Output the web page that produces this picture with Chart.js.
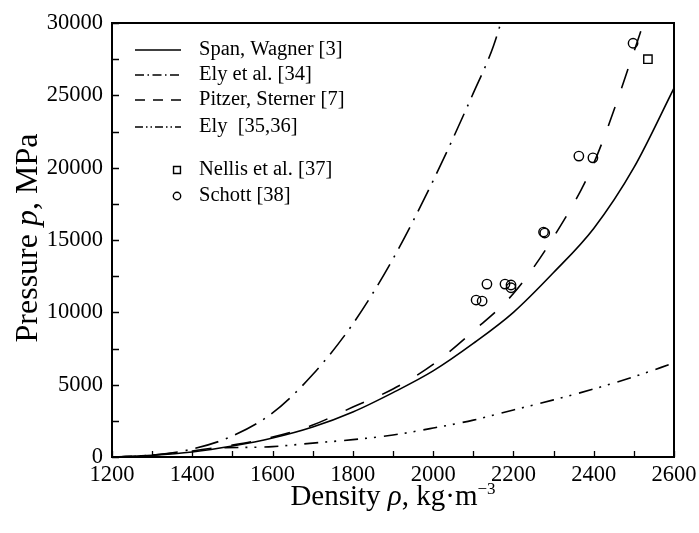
<!DOCTYPE html>
<html>
<head>
<meta charset="utf-8">
<script src="https://cdn.jsdelivr.net/npm/chart.js@4/dist/chart.umd.min.js"></script>
<style>
  body { margin: 0; background: #fff; }
  #wrap { width: 699px; height: 533px; }
</style>
</head>
<body>
<div id="wrap"><canvas id="PressureChart"></canvas></div>
<script>
// density in kg/m3, pressure in MPa
const density = [1200, 1300, 1400, 1500, 1600, 1700, 1800, 1900, 2000, 2100, 2200, 2300, 2400, 2500, 2600];
const spanWagner = [0, 120, 350, 760, 1310, 2070, 3110, 4450, 5950, 7850, 10000, 12750, 15800, 20000, 25500];

const elyEtAlDensity = [1200, 1300, 1400, 1500, 1600, 1700, 1800, 1900, 2000, 2100, 2150, 2200];
const elyEtAl = [0, 130, 550, 1450, 3050, 5700, 9200, 13700, 19100, 25150, 28400, 33000];

const pitzerDensity = [1200, 1300, 1400, 1500, 1600, 1700, 1800, 1900, 2000, 2100, 2200, 2300, 2400, 2500, 2550];
const pitzerSterner = [0, 130, 420, 830, 1380, 2210, 3450, 4700, 6400, 8700, 11300, 15200, 20300, 28000, 32200];

const elyDensity = [1480, 1600, 1700, 1800, 1900, 2000, 2100, 2200, 2300, 2400, 2500, 2600];
const ely = [640, 720, 960, 1200, 1520, 2000, 2550, 3250, 3950, 4700, 5550, 6500];

const nellisDensity = [2535];
const nellisPressure = [27500];

const schottDensity = [2107, 2122, 2134, 2179, 2194, 2194, 2275, 2278, 2363, 2398, 2498];
const schottPressure = [10850, 10780, 11950, 11950, 11890, 11700, 15550, 15480, 20800, 20680, 28600];

const labels = ["Span, Wagner [3]", "Ely et al. [34]", "Pitzer, Sterner [7]", "Ely  [35,36]", "Nellis et al. [37]", "Schott [38]"];

const serif = "'Liberation Serif', 'DejaVu Serif', serif";

function pts(xs, ys){
    return xs.map((x, i) => ({x: x, y: ys[i]}));
}

// legendDash: the shorter pattern used for the little legend sample
function curve(label, xs, ys, dash, legendDash){
    return {
        label: label,
        data: pts(xs, ys),
        borderColor: "#000",
        borderWidth: 1.6,
        borderDash: dash,
        legendDash: legendDash,
        pointRadius: 0,
        fill: false,
        cubicInterpolationMode: "monotone"
    };
}

function markers(label, xs, ys, style, radius){
    return {
        label: label,
        data: pts(xs, ys),
        showLine: false,
        pointStyle: style,
        pointRadius: radius,
        pointBorderColor: "#000",
        pointBackgroundColor: "rgba(0,0,0,0)",
        pointBorderWidth: 1.4
    };
}

// draws a run of text pieces (font, text, raise) one after another, centred on cx
function textRun(ctx, parts, cx, y){
    let w = 0;
    parts.forEach(p => { ctx.font = p[0]; w += ctx.measureText(p[1]).width; });
    let x = cx - w / 2;
    parts.forEach(p => {
        ctx.font = p[0];
        ctx.fillText(p[1], x, y - (p[2] || 0));
        x += ctx.measureText(p[1]).width;
    });
}

// frame, inward tick marks, legend and axis titles
const decorations = {
    id: "decorations",
    afterDraw(chart){
        const ctx = chart.ctx;
        const a = chart.chartArea;
        const xs = chart.scales.x, ys = chart.scales.y;
        ctx.save();
        ctx.strokeStyle = "#000";
        ctx.setLineDash([]);

        ctx.lineWidth = 1.3;
        ctx.beginPath();
        xs.ticks.forEach(t => {
            const px = Math.round(xs.getPixelForValue(t.value)) + 0.5;
            ctx.moveTo(px, a.bottom);
            ctx.lineTo(px, a.bottom - 6);
        });
        ys.ticks.forEach(t => {
            const py = Math.round(ys.getPixelForValue(t.value)) + 0.5;
            ctx.moveTo(a.left, py);
            ctx.lineTo(a.left + 7, py);
        });
        ctx.stroke();

        ctx.lineWidth = 2;
        ctx.strokeRect(a.left, a.top, a.right - a.left, a.bottom - a.top);

        // legend
        const rows = [a.top + 27, a.top + 52, a.top + 77, a.top + 104, a.top + 147, a.top + 173];
        ctx.textBaseline = "middle";
        chart.data.datasets.forEach((ds, i) => {
            const y = rows[i];
            if (ds.showLine === false){
                ctx.lineWidth = ds.pointBorderWidth;
                ctx.fillStyle = "rgba(0,0,0,0)";
                Chart.helpers.drawPoint(ctx, {pointStyle: ds.pointStyle, radius: ds.pointRadius - 1, borderWidth: ds.pointBorderWidth}, a.left + 65, y);
            } else {
                ctx.lineWidth = ds.borderWidth;
                ctx.setLineDash(ds.legendDash);
                ctx.beginPath();
                ctx.moveTo(a.left + 23, y);
                ctx.lineTo(a.left + 69, y);
                ctx.stroke();
                ctx.setLineDash([]);
            }
            ctx.font = "20.5px " + serif;
            ctx.fillStyle = "#000";
            ctx.fillText(ds.label, a.left + 87, y);
        });

        ctx.textBaseline = "alphabetic";

        // x title: Density ρ, kg·m-3
        textRun(ctx, [
            ["29px " + serif, "Density "],
            ["italic 29px " + serif, "\u03C1"],
            ["29px " + serif, ", kg\u00B7m"],
            ["17px " + serif, "\u22123", 11]
        ], (a.left + a.right) / 2, 505);

        // y title: Pressure p, MPa
        ctx.translate(37, 238);
        ctx.rotate(-Math.PI / 2);
        textRun(ctx, [
            ["32px " + serif, "Pressure "],
            ["italic 32px " + serif, "p"],
            ["32px " + serif, ", MPa"]
        ], 0, 0);
        ctx.restore();
    }
};

const tickFont = {family: serif, size: 22.5};

new Chart(document.getElementById("PressureChart"), {
    type: "line",
    data: {
        datasets: [
            curve(labels[0], density, spanWagner, [], []),
            curve(labels[1], elyEtAlDensity, elyEtAl, [24, 8, 2, 8], [9, 3.5, 1.5, 3.5]),
            curve(labels[2], pitzerDensity, pitzerSterner, [20, 20], [10, 8]),
            curve(labels[3], elyDensity, ely, [14, 7, 2, 7, 2, 8], [8, 3, 1.5, 3, 1.5, 3]),
            markers(labels[4], nellisDensity, nellisPressure, "rect", 5.9),
            markers(labels[5], schottDensity, schottPressure, "circle", 4.7)
        ]
    },
    options: {
        responsive: true,
        maintainAspectRatio: false,
        animation: false,
        layout: {padding: {left: 0, top: 23, right: 25, bottom: 0}},
        plugins: {legend: {display: false}, tooltip: {enabled: false}},
        scales: {
            x: {
                type: "linear",
                min: 1200,
                max: 2600,
                grid: {display: false},
                border: {display: false},
                ticks: {
                    stepSize: 100,
                    autoSkip: false,
                    maxRotation: 0,
                    padding: -3,
                    color: "#000",
                    font: tickFont,
                    callback: v => v % 200 === 0 ? String(v) : ""
                },
                afterFit: s => { s.height = 76; }
            },
            y: {
                min: 0,
                max: 30000,
                grid: {display: false},
                border: {display: false},
                ticks: {
                    stepSize: 2500,
                    autoSkip: false,
                    padding: 1,
                    color: "#000",
                    font: tickFont,
                    callback: v => v % 5000 === 0 ? String(v) : ""
                },
                afterFit: s => { s.width = 112; }
            }
        }
    },
    plugins: [decorations]
});
</script>
</body>
</html>
